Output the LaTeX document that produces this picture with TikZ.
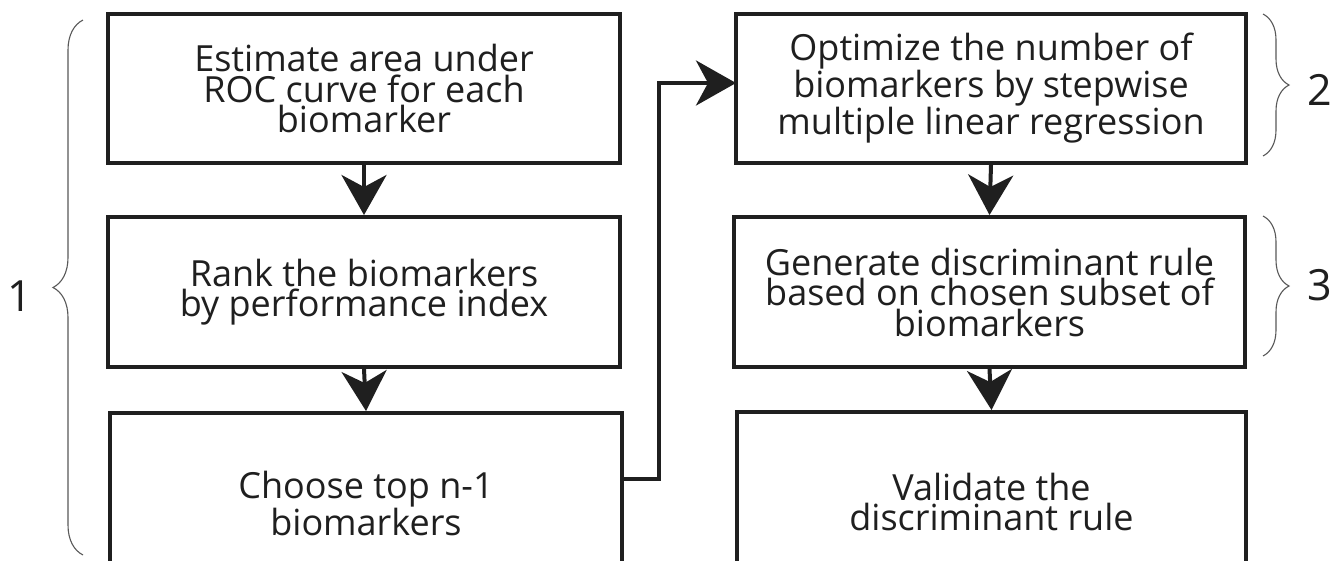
\documentclass[tikz,border=0pt]{standalone}
\usepackage{fontspec}
\newfontfamily\boxfont{Open Sans}
\newfontfamily\numfont{Open Sans}
\usetikzlibrary{arrows.meta,calc,decorations.pathreplacing}
\tikzset{
  box/.style={draw=black!88, line width=4pt, align=center, inner sep=0pt,
    font=\boxfont\fontsize{36}{30.5}\selectfont, text=black!88},
  conn/.style={draw=black!88, line width=4pt,
    -{Stealth[length=40pt 0 0, width=45pt 0 0, inset=12pt 0 0]}},
  bracel/.style={draw=black!65, line width=1.1pt,
    decorate, decoration={brace, amplitude=30pt}},
  bracer/.style={draw=black!65, line width=1.1pt,
    decorate, decoration={brace, amplitude=26pt}},
  numlab/.style={font=\numfont\fontsize{43}{43}\selectfont, text=black!88, inner sep=0pt}
}
\begin{document}
\begin{tikzpicture}[x=1pt,y=-1pt]
\useasboundingbox[fill=white] (0,0) rectangle (1336,560);
% left column
\node[box, minimum width=512pt, minimum height=149pt] (B1) at (364,88.5)
  {Estimate area under\\ROC curve for each\\biomarker};
\node[box, minimum width=512pt, minimum height=150pt] (B2) at (364,292)
  {Rank the biomarkers\\by performance index};
\node[box, minimum width=512pt, minimum height=180pt] (B3) at (366,503)
  {Choose top n-1\\biomarkers};
% right column
\node[box, minimum width=510pt, minimum height=149pt] (B4) at (991,88.5)
  {Optimize the number of\\biomarkers by stepwise\\multiple linear regression};
\node[box, minimum width=511pt, minimum height=150pt] (B5) at (989.5,292)
  {Generate discriminant rule\\based on chosen subset of\\biomarkers};
\node[box, minimum width=509pt, minimum height=180pt] (B6) at (991.5,502)
  {Validate the\\discriminant rule};
% connectors
\draw[conn] (B1.south) -- (B2.north);
\draw[conn] (B2.south) -- (B3.north);
\draw[conn] (B4.south) -- (B5.north);
\draw[conn] (B5.south) -- (B6.north);
\coordinate (e1) at (659,479);
\coordinate (e2) at (659,83);
\coordinate (e3) at (736,83);
\draw[conn] (B3.east |- e1) -- (e1) -- (e2) -- (e3);
% braces
\coordinate (b1a) at (83,555);
\coordinate (b1b) at (83,20);
\draw[bracel] (b1a) -- (b1b);
\node[numlab] (L1) at (20,296) {1};
\coordinate (b2a) at (1263,14);
\coordinate (b2b) at (1263,156);
\draw[bracer] (b2a) -- (b2b);
\node[numlab] (L2) at (1320,90) {2};
\coordinate (b3a) at (1263,216);
\coordinate (b3b) at (1263,356);
\draw[bracer] (b3a) -- (b3b);
\node[numlab] (L3) at (1320,285) {3};
\end{tikzpicture}
\end{document}
